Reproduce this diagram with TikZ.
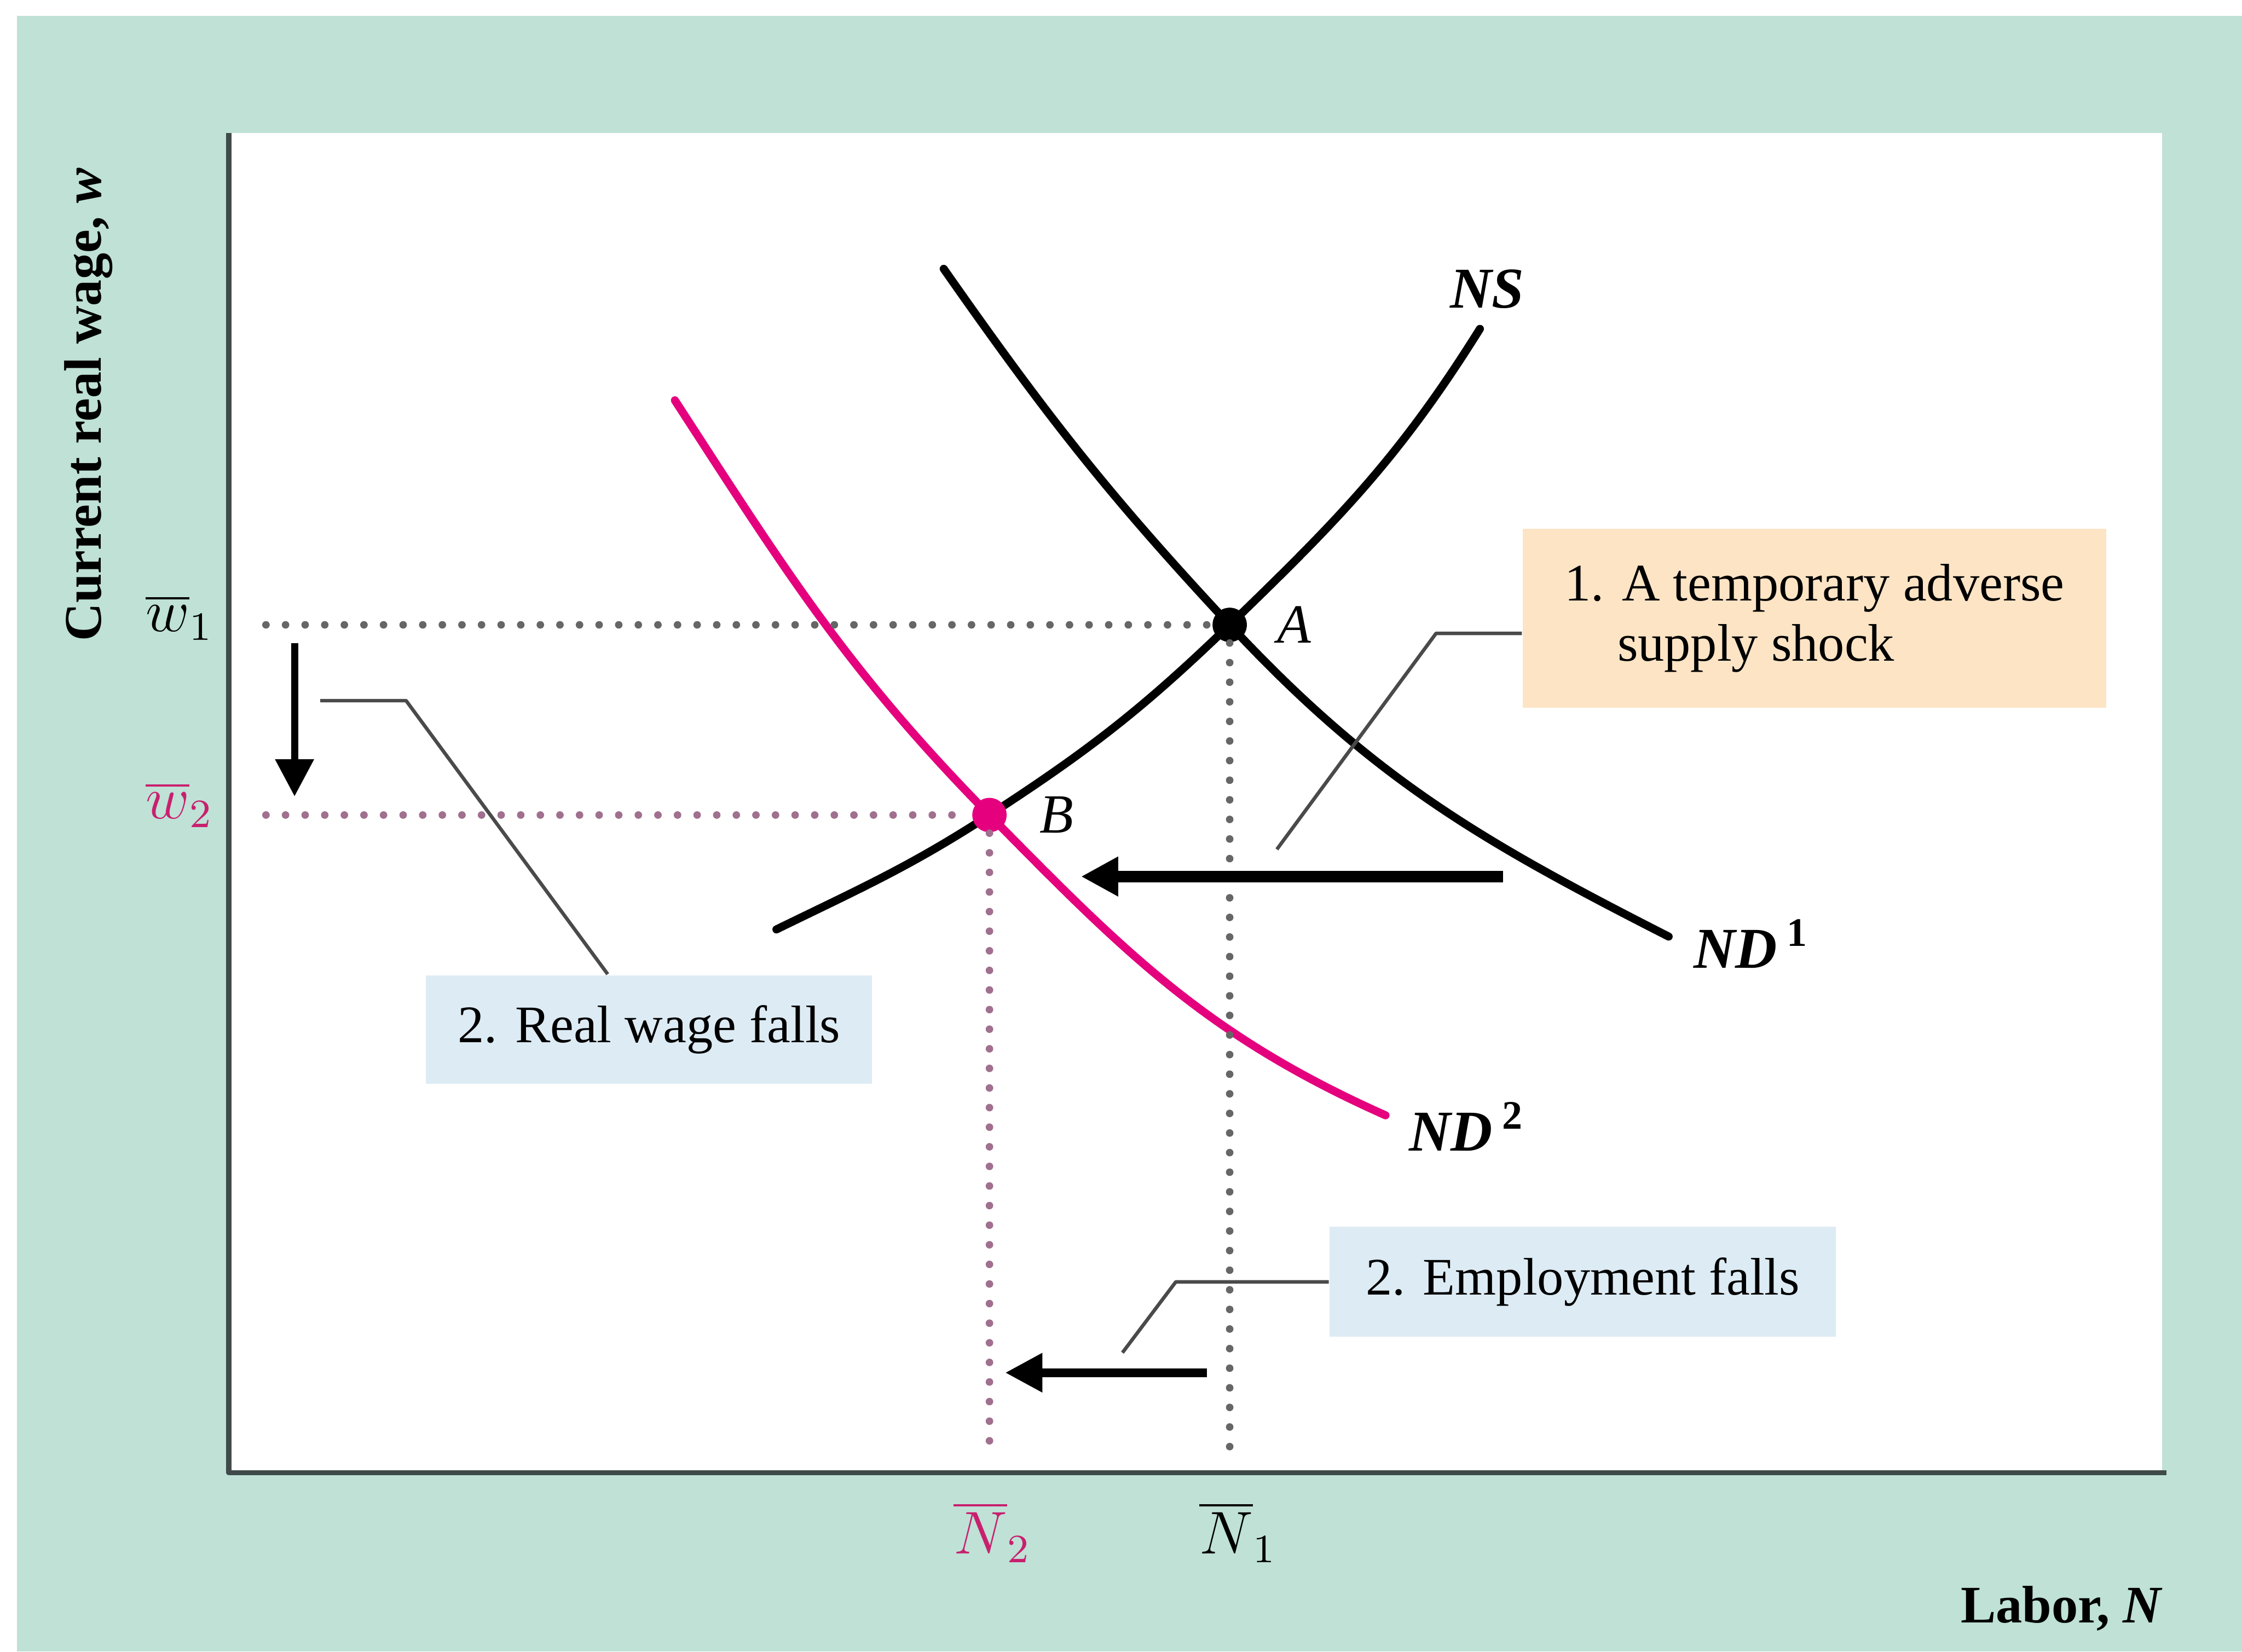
\documentclass[tikz,border=0pt]{standalone}
\usepackage{fontspec}
\setmainfont{Liberation Serif}
\usetikzlibrary{arrows.meta, positioning, calc}
\definecolor{frameteal}{HTML}{BFE1D6}
\definecolor{axisgray}{HTML}{404B49}
\definecolor{shockpink}{HTML}{E5007E}
\definecolor{labelpink}{HTML}{C8206E}
\definecolor{dotgray}{HTML}{666666}
\definecolor{dotmauve}{HTML}{A0708E}
\definecolor{calloutpeach}{HTML}{FDE4C5}
\definecolor{calloutblue}{HTML}{DDEBF4}
\definecolor{leadergray}{HTML}{4A4A4A}

\begin{document}
\begin{tikzpicture}[line cap=round, line join=round, font=\fontsize{10.5}{12}\selectfont,
    curve/.style={line width=1.6pt},
    dotline/.style={line width=1.5pt, dash pattern=on 0pt off 3.9pt},
    callout/.style={inner sep=0pt, align=left},
    leader/.style={draw=leadergray, line width=0.7pt, line cap=butt},
    shiftarrow/.style={line cap=butt, -{Triangle[length=0.26cm, width=0.26cm]}},
    eqdot/.style={circle, inner sep=0pt, minimum size=0.24cm},
    curvelabel/.style={font=\fontsize{11.5}{13}\selectfont\bfseries\itshape},
    axisvalue/.style={font=\large, inner sep=0pt}]

      % Marco y area del grafico
      \useasboundingbox (0,0) rectangle (15.68,11.55);
      \fill[frameteal] (0.12,0) rectangle (15.68,11.44);
      \fill[white] (1.60,1.25) rectangle (15.12,10.62);

      % Ejes
      \coordinate (O) at (1.60,1.25);
      \draw[axisgray, line width=1pt, line cap=butt] (1.60,10.62) -- (O) -- (15.15,1.25);
      \node[rotate=90, font=\fontsize{10.5}{12}\selectfont\bfseries] (ylabel) at (0.62,8.72) {Current real wage, \textit{w}};
      \node[font=\fontsize{10.5}{12}\selectfont\bfseries] (xlabel) at (14.42,0.30) {Labor, \textit{N}};

      % Curvas
      \coordinate (eqA) at (8.60,7.18);
      \coordinate (eqB) at (6.92,5.85);
      \coordinate (nsstart) at (5.43,5.05);
      \coordinate (nsend) at (10.35,9.25);
      \coordinate (nd1start) at (6.60,9.67);
      \coordinate (nd1end) at (11.67,5.00);
      \coordinate (nd2start) at (4.72,8.75);
      \coordinate (nd2end) at (9.69,3.75);
      \draw[curve] (nsstart) to[out=26, in=213] (eqB) to[out=33, in=224] (eqA) to[out=44, in=238] (nsend);
      \draw[curve] (nd1start) to[out=-55, in=133] (eqA) to[out=-47, in=153] (nd1end);
      \draw[curve, shockpink] (nd2start) to[out=-57, in=134.5] (eqB) to[out=-45.5, in=156] (nd2end);

      \node[curvelabel, above=0.02cm] (ns) at ($(nsend)+(0.05,0)$) {NS};
      \node[curvelabel, anchor=west] (nd1) at ($(nd1end)+(0.05,-0.05)$) {ND\/\,\textsuperscript{\upshape 1}};
      \node[curvelabel, anchor=west] (nd2) at ($(nd2end)+(0.04,-0.08)$) {ND\/\,\textsuperscript{\upshape 2}};

      % Equilibrios
      \node[eqdot, fill=black] (A) at (eqA) {};
      \node[eqdot, fill=shockpink] (B) at (eqB) {};
      \node[curvelabel, font=\fontsize{11}{13}\selectfont\itshape, right=0.08cm of A] (alabel) {A};
      \node[curvelabel, font=\fontsize{11}{13}\selectfont\itshape, right=0.1cm of B] (blabel) {B};

      % Lineas punteadas
      \coordinate (w1start) at (1.86,7.18);
      \coordinate (w2start) at (1.86,5.85);
      \coordinate (n1foot) at (8.60,1.36);
      \coordinate (n2foot) at (6.92,1.36);
      \draw[dotline, dotgray] (w1start) -- (A);
      \draw[dotline, dotmauve] (w2start) -- (B);
      \draw[dotline, dotgray] (A) -- (n1foot);
      \draw[dotline, dotmauve] (B) -- (n2foot);

      % Valores en los ejes
      \node[axisvalue, left=0.1cm] (w1) at (1.60,7.23) {$\overline{w}_1$};
      \node[axisvalue, text=labelpink, left=0.1cm] (w2) at (1.60,5.92) {$\overline{w}_2$};
      \node[axisvalue, text=labelpink, below=0.2cm] (n2) at (6.94,1.25) {$\overline{N}_2$};
      \node[axisvalue, below=0.2cm] (n1) at (8.66,1.25) {$\overline{N}_1$};

      % Flechas
      \coordinate (wtop) at (2.06,7.05);
      \coordinate (wbot) at (2.06,5.98);
      \draw[shiftarrow, line width=1.4pt] (wtop) -- (wbot);
      \coordinate (ndfrom) at (10.51,5.42);
      \coordinate (ndto) at (7.56,5.42);
      \draw[shiftarrow, line width=2.3pt] (ndfrom) -- (ndto);
      \coordinate (nfrom) at (8.44,1.95);
      \coordinate (nto) at (7.03,1.95);
      \draw[shiftarrow, line width=1.7pt] (nfrom) -- (nto);

      % Recuadros
      \node[callout, fill=calloutpeach, minimum width=4.08cm, minimum height=1.25cm] (shock) at (12.69,7.225) {1. A temporary adverse\\\hphantom{1.~}supply shock};
      \node[callout, fill=calloutblue, minimum width=3.12cm, minimum height=0.76cm] (wagefall) at (4.54,4.35) {2. Real wage falls};
      \node[callout, fill=calloutblue, minimum width=3.54cm, minimum height=0.77cm] (jobfall) at (11.07,2.585) {2. Employment falls};

      \coordinate (shocktip) at (8.93,5.61);
      \coordinate (wagetip) at (2.24,6.65);
      \coordinate (jobtip) at (7.85,2.09);
      \draw[leader] ([yshift=-0.105cm]shock.west) -- ++(-0.60,0) -- (shocktip);
      \draw[leader] (wagetip) -- ++(0.60,0) -- ([xshift=-0.29cm]wagefall.north);
      \draw[leader] (jobfall.west) -- ++(-1.07,0) -- (jobtip);
    \end{tikzpicture}
\end{document}
